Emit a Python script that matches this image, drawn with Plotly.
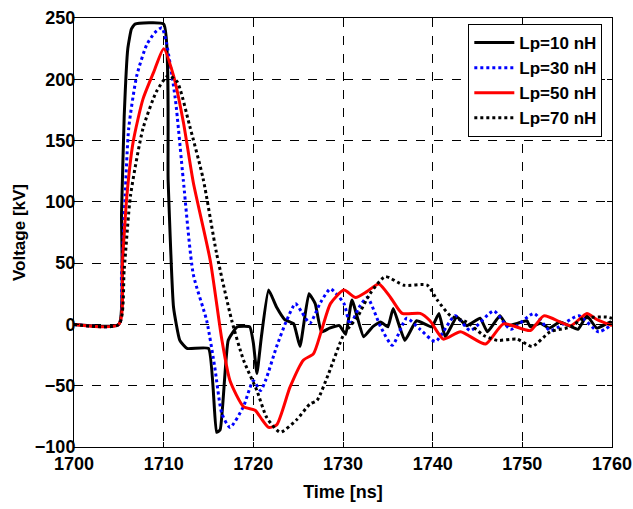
import plotly.graph_objects as go

# Lp = 10 nH (black solid)
t10 = [1700, 1705.0, 1705.3, 1705.6, 1706.0, 1706.4, 1706.8, 1710.0, 1710.5, 1711.1, 1711.8, 1712.6, 1715.0,
       1715.9, 1716.3, 1717.2, 1718.2, 1719.6, 1720.0, 1720.4, 1720.9, 1721.7, 1722.6, 1723.5, 1724.5,
       1725.2, 1726.2, 1726.9, 1727.6, 1728.5, 1729.6, 1730.3, 1731.0, 1732.3, 1733.3, 1734.2, 1735.0,
       1735.6, 1736.9, 1738.2, 1739.9, 1740.7, 1741.4, 1742.7, 1743.8, 1745.3, 1746.1, 1747.5, 1748.3,
       1749.5, 1750.5, 1750.9, 1752.0, 1753.0, 1754.2, 1755.2, 1756.2, 1757.2, 1758.3, 1759.8, 1760]
v10 = [0, 0, 90, 170, 225, 241, 245, 245, 117, 14, -13, -19.6, -19.6,
       -88, -86, -13, -2, -2, -15, -40, -10, 28, 14, 4, 0.5,
       -18, 25, 17, -6, -3, -1, -8, 20, -10, -2, 2, -2,
       13, -13, 3, -2, 9, -10, 6, -1, 5, -6, 7, -1,
       1, 3, -2, 1, -3, 2, -1, -4, 7, -3, 2, 1]

# Lp = 30 nH (blue dotted)
t30 = [1700, 1705.0, 1705.3, 1705.7, 1706.1, 1707.0, 1708.1, 1709.0, 1709.8, 1710.3, 1711.3, 1712.2,
       1713.3, 1714.8, 1715.7, 1716.5, 1717.4, 1718.9, 1720.0, 1720.8, 1721.4, 1722.6, 1723.7, 1724.7,
       1725.4, 1726.3, 1727.5, 1728.6, 1730.1, 1730.8, 1731.8, 1732.7, 1734.2, 1735.5, 1737.1, 1738.6,
       1740.3, 1742.5, 1744.2, 1746.8, 1748.7, 1751.3, 1753.1, 1756.3, 1758.5, 1760]
v30 = [0, 0, 40, 105, 160, 203, 228, 238, 242, 230, 184, 117,
       41, 3, -35, -73, -84, -67, -46, -54, -45, -18, 3, 17,
       10, 1, 18, 29, 17, 0, 14, 22, -2, -17, 5, -4,
       -14, 7, -5, 11, -4, 9, -5, 7, -6, 0]

# Lp = 50 nH (red solid)
t50 = [1700, 1705.0, 1705.4, 1705.9, 1706.6, 1707.7, 1708.9, 1710.0, 1711.1, 1712.2, 1713.3, 1715.2,
       1716.5, 1717.4, 1718.9, 1720.2, 1721.0, 1721.7, 1722.6, 1724.1, 1725.6, 1726.7, 1727.6, 1728.6,
       1730.1, 1731.4, 1732.7, 1734.0, 1735.3, 1736.6, 1738.6, 1739.7, 1741.2, 1743.1, 1745.9, 1747.9,
       1750.9, 1752.4, 1755.4, 1757.2, 1758.3, 1760]
v50 = [0, 0, 50, 105, 149, 184, 206, 225, 203, 165, 116, 52,
       -13, -46, -67, -70, -78, -84, -82, -51, -29, -24, -5, 17,
       28, 22, 27, 33, 22, 9, 9, 3, -12, -6, -16, 0.5,
       -5, 7, -1, 9, 4, -1]

# Lp = 70 nH (black dotted)
t70 = [1700, 1705.0, 1705.6, 1706.3, 1707.7, 1709.2, 1710.5, 1711.5, 1712.9, 1714.4, 1715.9, 1717.6,
       1718.9, 1720.4, 1721.5, 1723.0, 1724.8, 1726.3, 1727.1, 1728.4, 1730.1, 1731.6, 1733.0, 1734.7,
       1736.8, 1739.4, 1740.5, 1742.0, 1743.8, 1745.7, 1747.2, 1749.4, 1751.1, 1753.1, 1755.4, 1756.8,
       1759.4, 1760]
v70 = [0, 0, 45, 105, 160, 190, 203, 198, 162, 119, 58, 3,
       -29, -54, -76, -88, -78, -65, -62, -40, -8, 6, 25, 39,
       32, 32, 20, 7, 2, -9, -13, -12, -18, -6, -2, 5,
       6, 5]

x_ticks = [1700, 1710, 1720, 1730, 1740, 1750, 1760]
y_ticks = [-100, -50, 0, 50, 100, 150, 200, 250]

font_family = "Liberation Sans, Arial, sans-serif"

fig = go.Figure()
fig.add_trace(go.Scatter(x=t10, y=v10, mode="lines", name="Lp=10 nH",
                         line=dict(color="black", width=3, shape="spline", smoothing=0.4)))
fig.add_trace(go.Scatter(x=t30, y=v30, mode="lines", name="Lp=30 nH",
                         line=dict(color="blue", width=3, dash="dot", shape="spline", smoothing=0.6)))
fig.add_trace(go.Scatter(x=t50, y=v50, mode="lines", name="Lp=50 nH",
                         line=dict(color="red", width=3, shape="spline", smoothing=0.6)))
fig.add_trace(go.Scatter(x=t70, y=v70, mode="lines", name="Lp=70 nH",
                         line=dict(color="black", width=3, dash="dot", shape="spline", smoothing=0.6)))

axis_common = dict(showline=True, linecolor="black", linewidth=1, mirror="ticks",
                   ticks="inside", ticklen=5, tickcolor="black", automargin=False,
                   showgrid=True, gridcolor="black", gridwidth=1, griddash="dash",
                   zeroline=False,
                   tickfont=dict(family=font_family, size=18, color="black", weight="bold"))

fig.update_layout(
    width=633, height=509,
    margin=dict(l=74, r=21, t=18, b=62),
    paper_bgcolor="white", plot_bgcolor="white",
    font=dict(family=font_family, color="black"),
    xaxis=dict(range=[1700, 1760], tickvals=x_ticks,
               title=dict(text="Time [ns]", font=dict(family=font_family, size=18, weight="bold"), standoff=12),
               **axis_common),
    yaxis=dict(range=[-100, 250], tickvals=y_ticks, ticklabelstandoff=-6,
               title=dict(text="Voltage [kV]", font=dict(family=font_family, size=17, weight="bold"), standoff=4),
               **axis_common),
    legend=dict(x=0.982, y=0.986, xanchor="right", yanchor="top",
                bgcolor="white", bordercolor="black", borderwidth=1,
                font=dict(family=font_family, size=17, color="black", weight="bold"),
                tracegroupgap=0, itemwidth=40),
    showlegend=True,
)

# remove the default page margin so the figure fills the 633x509 window exactly
fig.write_html("out.html", config={"displayModeBar": False},
               post_script="document.body.style.margin='0';document.body.style.overflow='hidden';")
